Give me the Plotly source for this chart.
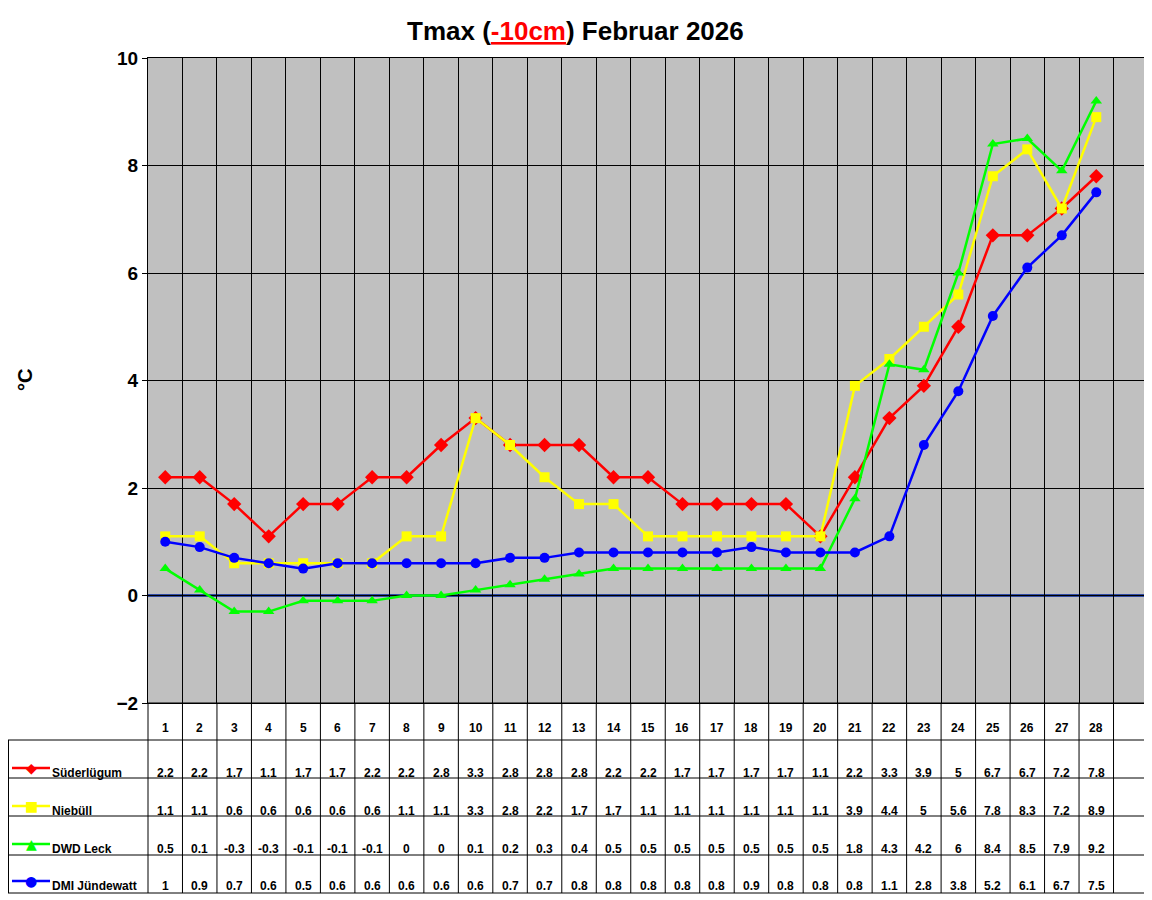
import plotly.graph_objects as go

days = list(range(1, 29))
sueder = [2.2, 2.2, 1.7, 1.1, 1.7, 1.7, 2.2, 2.2, 2.8, 3.3, 2.8, 2.8, 2.8, 2.2, 2.2, 1.7, 1.7, 1.7, 1.7, 1.1,
          2.2, 3.3, 3.9, 5, 6.7, 6.7, 7.2, 7.8]
niebuell = [1.1, 1.1, 0.6, 0.6, 0.6, 0.6, 0.6, 1.1, 1.1, 3.3, 2.8, 2.2, 1.7, 1.7, 1.1, 1.1, 1.1, 1.1, 1.1, 1.1,
            3.9, 4.4, 5, 5.6, 7.8, 8.3, 7.2, 8.9]
leck = [0.5, 0.1, -0.3, -0.3, -0.1, -0.1, -0.1, 0, 0, 0.1, 0.2, 0.3, 0.4, 0.5, 0.5, 0.5, 0.5, 0.5, 0.5, 0.5,
        1.8, 4.3, 4.2, 6, 8.4, 8.5, 7.9, 9.2]
dmi = [1, 0.9, 0.7, 0.6, 0.5, 0.6, 0.6, 0.6, 0.6, 0.6, 0.7, 0.7, 0.8, 0.8, 0.8, 0.8, 0.8, 0.9, 0.8, 0.8,
       0.8, 1.1, 2.8, 3.8, 5.2, 6.1, 6.7, 7.5]

series = [
    ("Süderlügum", sueder, "#FF0000", "diamond", "◆"),
    ("Niebüll", niebuell, "#FFFF00", "square", "■"),
    ("DWD Leck", leck, "#00FF00", "triangle-up", "▲"),
    ("DMI Jündewatt", dmi, "#0000FF", "circle", "●"),
]

# page body adds an 8px offset, so the figure is 8px smaller and coordinates shifted
OFF = 8
W, H = 1152 - OFF, 900 - OFF
PL, PR, PT, PB = 148, 1148, 58, 703
ncat = 29


def py(y):  # reference pixel y -> paper
    return 1 - (y - OFF) / H


def pxx(x):
    return (x - OFF) / W


def cx(i):  # category pixel center
    return PL + (i - 0.5) * (PR - PL) / ncat


fig = go.Figure()
for name, vals, col, sym, _ in series:
    fig.add_trace(go.Scatter(x=days, y=vals, mode="lines+markers", name=name,
                             line=dict(color=col, width=2.5),
                             marker=dict(symbol=sym, size=10 if sym != "diamond" else 11, color=col),
                             showlegend=False))

shapes = []
ann = []
shapes.append(dict(type="line", xref="paper", yref="y", x0=pxx(PL), x1=pxx(PR), y0=0, y1=0,
                   line=dict(color="#00249C", width=2.5), layer="below"))
rows = [703, 740, 778, 816, 855, 893]
for i, y in enumerate(rows):
    x0 = PL if i == 0 else 8
    shapes.append(dict(type="line", xref="paper", yref="paper", x0=pxx(x0), x1=pxx(PR),
                       y0=py(y), y1=py(y), line=dict(color="black", width=1)))
for k in range(ncat + 1):
    x = PL + k * (PR - PL) / ncat
    shapes.append(dict(type="line", xref="paper", yref="paper", x0=pxx(x), x1=pxx(x),
                       y0=py(703), y1=py(893), line=dict(color="black", width=1)))
shapes.append(dict(type="line", xref="paper", yref="paper", x0=pxx(8.5), x1=pxx(8.5),
                   y0=py(740), y1=py(893), line=dict(color="black", width=1)))

tfont = dict(family="Arial", size=12, color="black")


def note(x, y, text, font=tfont, xanchor="center", **kw):
    ann.append(dict(x=pxx(x), y=py(y), xref="paper", yref="paper", text=text, showarrow=False,
                    xanchor=xanchor, yanchor="middle", font=font, **kw))


for d in days:
    note(cx(d), 728, f"<b>{d}</b>")
text_y = [773, 811, 849, 886]
for r, (name, vals, col, sym, glyph) in enumerate(series):
    ty = text_y[r]
    for d, v in zip(days, vals):
        note(cx(d), ty, f"<b>{v:g}</b>")
    note(50, ty, f"<b>{name}</b>", xanchor="left")
    shapes.append(dict(type="line", xref="paper", yref="paper", x0=pxx(12), x1=pxx(50),
                       y0=py(ty - 5), y1=py(ty - 5), line=dict(color=col, width=2.5)))
    note(31, ty - 5, glyph, font=dict(family="DejaVu Sans", size=14, color=col))

note(25, 380, "<b>°C</b>", font=dict(family="Arial", size=20, color="black"), textangle=-90)
note(575, 31, "<b>Tmax (<span style='color:#FF0000;text-decoration:underline'>-10cm</span>) Februar 2026</b>",
     font=dict(family="Arial", size=26, color="black"))

fig.update_layout(
    width=W, height=H, margin=dict(l=0, r=0, t=0, b=0, autoexpand=False),
    paper_bgcolor="white", plot_bgcolor="#C0C0C0",
    xaxis=dict(domain=[pxx(PL), pxx(PR)], range=[0.5, 29.5], tick0=0.5, dtick=1,
               showticklabels=False, showgrid=True, gridcolor="black", gridwidth=1,
               zeroline=False, showline=True, linecolor="black", mirror=True, ticks=""),
    yaxis=dict(domain=[py(PB), py(PT)], range=[-2, 10], dtick=2, showgrid=True, gridcolor="black",
               gridwidth=1, zeroline=False, showline=True, linecolor="black", mirror=True,
               tickfont=dict(family="Arial", size=19, color="black"), tickprefix="<b>",
               ticksuffix="</b>", ticks="outside", ticklen=5, tickcolor="black"),
    shapes=shapes, annotations=ann,
)

fig.write_html("out.html")
